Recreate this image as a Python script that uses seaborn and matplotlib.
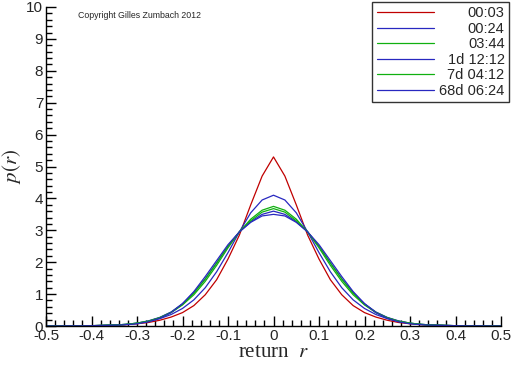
import numpy as np
import pandas as pd
import seaborn as sns
import matplotlib.pyplot as plt
from matplotlib.ticker import MultipleLocator

# return grid (step 0.025)
r = [-0.5, -0.475, -0.45, -0.425, -0.4, -0.375, -0.35, -0.325, -0.3, -0.275,
     -0.25, -0.225, -0.2, -0.175, -0.15, -0.125, -0.1, -0.075, -0.05, -0.025,
     0.0, 0.025, 0.05, 0.075, 0.1, 0.125, 0.15, 0.175, 0.2, 0.225, 0.25,
     0.275, 0.3, 0.325, 0.35, 0.375, 0.4, 0.425, 0.45, 0.475, 0.5]

labels = ["00:03", "00:24", "03:44", "1d 12:12", "7d 04:12", "68d 06:24"]

p_0003 = [0.0, 0.0, 0.0, 0.005, 0.01, 0.015, 0.025, 0.04, 0.07, 0.11,
          0.18, 0.28, 0.42, 0.64, 0.98, 1.45, 2.1, 2.85, 3.8, 4.7,
          5.3, 4.7, 3.8, 2.85, 2.1, 1.45, 0.98, 0.64, 0.42, 0.28, 0.18,
          0.11, 0.07, 0.04, 0.025, 0.015, 0.01, 0.005, 0.0, 0.0, 0.0]
p_0024 = [0.0, 0.0, 0.005, 0.005, 0.01, 0.02, 0.03, 0.05, 0.08, 0.14,
          0.23, 0.36, 0.55, 0.82, 1.2, 1.7, 2.3, 2.95, 3.55, 3.95,
          4.1, 3.95, 3.55, 2.95, 2.3, 1.7, 1.2, 0.82, 0.55, 0.36, 0.23,
          0.14, 0.08, 0.05, 0.03, 0.02, 0.01, 0.005, 0.005, 0.0, 0.0]
p_0344 = [0.0, 0.0, 0.005, 0.005, 0.01, 0.02, 0.03, 0.05, 0.09, 0.15,
          0.26, 0.42, 0.66, 0.98, 1.4, 1.9, 2.45, 2.95, 3.35, 3.63,
          3.75, 3.63, 3.35, 2.95, 2.45, 1.9, 1.4, 0.98, 0.66, 0.42, 0.26,
          0.15, 0.09, 0.05, 0.03, 0.02, 0.01, 0.005, 0.005, 0.0, 0.0]
p_1d = [0.0, 0.0, 0.005, 0.005, 0.01, 0.02, 0.03, 0.05, 0.09, 0.16,
        0.27, 0.44, 0.7, 1.05, 1.48, 1.98, 2.5, 2.95, 3.27, 3.5,
        3.6, 3.5, 3.27, 2.95, 2.5, 1.98, 1.48, 1.05, 0.7, 0.44, 0.27,
        0.16, 0.09, 0.05, 0.03, 0.02, 0.01, 0.005, 0.005, 0.0, 0.0]
p_7d = [0.0, 0.0, 0.005, 0.005, 0.01, 0.02, 0.03, 0.05, 0.09, 0.15,
        0.26, 0.43, 0.68, 1.03, 1.47, 1.97, 2.5, 2.95, 3.3, 3.57,
        3.68, 3.57, 3.3, 2.95, 2.5, 1.97, 1.47, 1.03, 0.68, 0.43, 0.26,
        0.15, 0.09, 0.05, 0.03, 0.02, 0.01, 0.005, 0.005, 0.0, 0.0]
p_68d = [0.0, 0.0, 0.005, 0.005, 0.01, 0.015, 0.025, 0.04, 0.07, 0.13,
         0.24, 0.42, 0.7, 1.08, 1.55, 2.05, 2.55, 2.95, 3.25, 3.45,
         3.5, 3.45, 3.25, 2.95, 2.55, 2.05, 1.55, 1.08, 0.7, 0.42, 0.24,
         0.13, 0.07, 0.04, 0.025, 0.015, 0.01, 0.005, 0.005, 0.0, 0.0]

series = [p_0003, p_0024, p_0344, p_1d, p_7d, p_68d]
colors = ["#c00000", "#2828c0", "#10b010", "#2828c0", "#10b010", "#2828c0"]

df = pd.concat([pd.DataFrame({"r": r, "p": s, "lag": lab})
                for s, lab in zip(series, labels)])

sns.set_style("ticks")
plt.rcParams["font.family"] = ["Liberation Sans", "DejaVu Sans"]
plt.rcParams["mathtext.fontset"] = "stix"

fig = plt.figure(figsize=(5.12, 3.66), dpi=100)
ax = fig.add_axes([46 / 512, 1 - 326 / 366, 455 / 512, 319 / 366])

sns.lineplot(data=df, x="r", y="p", hue="lag", palette=colors,
             hue_order=labels, linewidth=0.9, ax=ax, legend=False)

ax.set_xlim(-0.5, 0.5)
ax.set_ylim(0, 10)
ax.xaxis.set_major_locator(MultipleLocator(0.1))
ax.xaxis.set_minor_locator(MultipleLocator(0.02))
ax.yaxis.set_major_locator(MultipleLocator(1))
ax.yaxis.set_minor_locator(MultipleLocator(0.2))
ax.set_xticklabels([f"{v:g}" for v in np.round(ax.get_xticks(), 1)])
ax.tick_params(which="major", direction="in", length=7, width=1,
               labelsize=11, color="black", pad=2)
ax.tick_params(which="minor", direction="in", length=4, width=1, color="black")
sns.despine(ax=ax)
for s in ["left", "bottom"]:
    ax.spines[s].set_color("black")
    ax.spines[s].set_linewidth(1)

ax.set_xlabel("return  $r$", family="Liberation Serif", fontsize=15, labelpad=0)
ax.set_ylabel("$p(r)$", fontsize=15, labelpad=2)

fig.text(78 / 512, 1 - 16 / 366, "Copyright Gilles Zumbach 2012",
         fontsize=6.3, va="center", ha="left")

handles = [plt.Line2D([], [], color=c, linewidth=0.9) for c in colors]
leg = fig.legend(handles, labels, loc="upper right",
                 bbox_to_anchor=(509 / 512, 1 - 2 / 366), fontsize=10.5,
                 handlelength=3.9, handletextpad=0.4, labelspacing=0.1,
                 borderpad=0.3, frameon=True, fancybox=False,
                 borderaxespad=0)
leg.get_frame().set_edgecolor("black")
leg.get_frame().set_linewidth(1)

# right-align legend labels
fig.canvas.draw()
renderer = fig.canvas.get_renderer()
widths = [t.get_window_extent(renderer).width for t in leg.get_texts()]
wmax = max(widths)
for t, w in zip(leg.get_texts(), widths):
    t.set_x(wmax - w)

fig.savefig("out.png", dpi=100)
